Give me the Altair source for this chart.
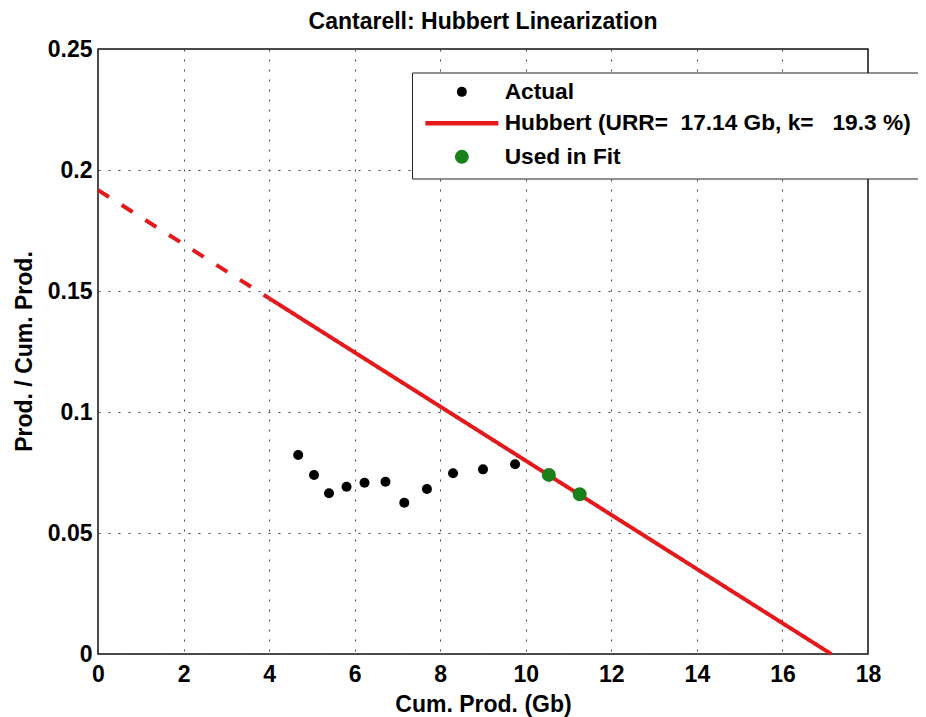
import altair as alt
import pandas as pd

# ---- data ----
actual_x = [4.68, 5.05, 5.40, 5.81, 6.23, 6.72, 7.16, 7.69, 8.30, 9.00, 9.75]
actual_y = [0.0822, 0.0740, 0.0664, 0.0691, 0.0708, 0.0712, 0.0625, 0.0682, 0.0747, 0.0763, 0.0784]
fit_x = [10.54, 11.26]
fit_y = [0.0740, 0.0660]
line_x = [0.0, 4.0, 4.0, 17.14]
line_y = [0.1917, 0.147, 0.147, 0.0]
line_part = ["extrapolated", "extrapolated", "fitted", "fitted"]

series_names = ["Actual", "Hubbert (URR=\u00a0 17.14 Gb, k=\u00a0\u00a0 19.3 %)", "Used in Fit"]
series_colors = ["#000000", "#e3191c", "#1a801a"]
series_shapes = ["circle", "M-7.1,-0.25L7.1,-0.25L7.1,0.25L-7.1,0.25Z", "circle"]
series_widths = [0, 4, 0]

x_ticks = [0, 2, 4, 6, 8, 10, 12, 14, 16, 18]
y_ticks = [0, 0.05, 0.1, 0.15, 0.2, 0.25]

FONT = "Liberation Sans"

points_df = pd.DataFrame({
    "x": actual_x + fit_x,
    "y": actual_y + fit_y,
    "series": [series_names[0]] * len(actual_x) + [series_names[2]] * len(fit_x),
})
line_df = pd.DataFrame({
    "x": line_x,
    "y": line_y,
    "part": line_part,
    "series": [series_names[1]] * len(line_x),
})

legend = alt.Legend(
    title=None,
    orient="none",
    legendX=314,
    legendY=23.5,
    direction="vertical",
    padding=8,
    symbolOffset=30.5,
    labelOffset=31.5,
    rowPadding=7.5,
    labelFont=FONT,
    labelFontSize=22.7,
    labelFontWeight="bold",
    labelColor="black",
    labelLimit=1000,
    fillColor="white",
    strokeColor="#222222",
    symbolSize=100,
    symbolOpacity=1,
)

fill_enc = alt.Fill("series:N", scale=alt.Scale(domain=series_names, range=series_colors), legend=legend)
stroke_enc = alt.Stroke("series:N", scale=alt.Scale(domain=series_names, range=series_colors), legend=legend)
shape_enc = alt.Shape("series:N", scale=alt.Scale(domain=series_names, range=series_shapes), legend=legend)
sw_enc = alt.StrokeWidth("series:N", scale=alt.Scale(domain=series_names, range=series_widths), legend=legend)

x_enc = alt.X(
    "x:Q",
    scale=alt.Scale(domain=[0, 18], nice=False, zero=False),
    axis=alt.Axis(values=x_ticks, title="Cum. Prod. (Gb)", format="d",
                  labelPadding=9, titleY=57, titleBaseline="alphabetic"),
)
y_enc = alt.Y(
    "y:Q",
    scale=alt.Scale(domain=[0, 0.25], nice=False),
    axis=alt.Axis(values=y_ticks, title="Prod. / Cum. Prod.", format=".2~f",
                  labelPadding=6, titleX=-67, titleY=302, titleBaseline="alphabetic"),
)

line = alt.Chart(line_df).mark_line(strokeWidth=4, strokeCap="butt").encode(
    x=x_enc,
    y=y_enc,
    stroke=stroke_enc,
    detail="part:N",
    strokeDash=alt.StrokeDash(
        "part:N",
        scale=alt.Scale(domain=["extrapolated", "fitted"], range=[[13, 15], [1, 0]]),
        legend=None,
    ),
)

points = alt.Chart(points_df).mark_point(size=100, opacity=1).encode(
    x=x_enc,
    y=y_enc,
    fill=fill_enc,
    stroke=stroke_enc,
    shape=shape_enc,
    strokeWidth=sw_enc,
)

chart = (
    alt.layer(line, points)
    .properties(
        width=770,
        height=605,
        title=alt.TitleParams(
            "Cantarell: Hubbert Linearization",
            font=FONT, fontSize=23, fontWeight="bold", color="black",
            offset=18, baseline="alphabetic", anchor="middle", frame="group", dy=32,
        ),
        autosize=alt.AutoSizeParams(type="none"),
        padding={"left": 90, "top": 41, "right": 50, "bottom": 70},
    )
    .configure_view(stroke="#111111", strokeWidth=1.5)
    .configure_axis(
        labelFont=FONT, labelFontSize=23, labelFontWeight="bold", labelColor="black",
        titleFont=FONT, titleFontSize=23, titleFontWeight="bold", titleColor="black",
        ticks=False, domain=False, grid=True,
        gridDash=[2, 8], gridColor="#444444", gridWidth=1, gridOpacity=1,
        labelOverlap=False, labelFlush=False,
    )
)

chart.save("out.html", embed_options={"renderer": "svg", "actions": False})
